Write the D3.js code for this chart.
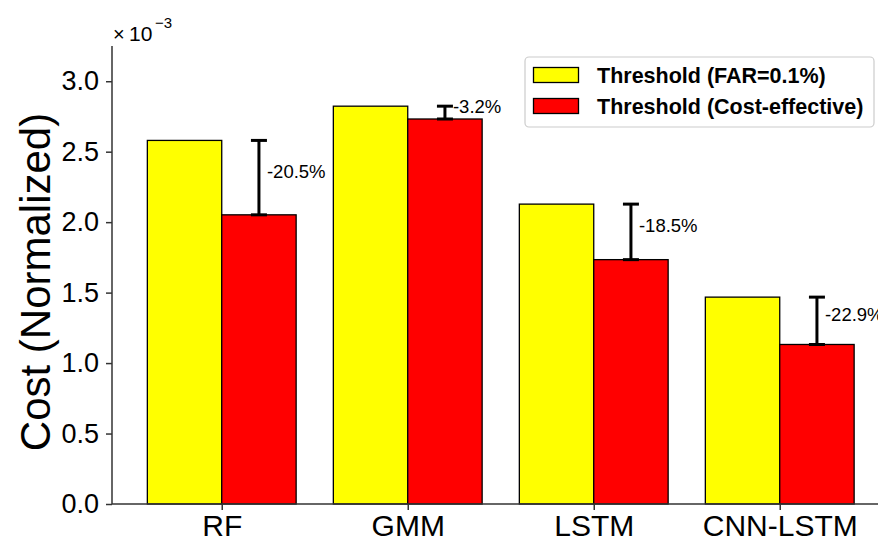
<!DOCTYPE html>
<html><head><meta charset="utf-8">
<script src="https://cdn.jsdelivr.net/npm/d3@7"></script>
<style>
html,body{margin:0;padding:0;background:#fff;overflow:hidden;}
svg{display:block;font-family:"Liberation Sans",Arial,sans-serif;}
</style></head>
<body>
<svg id="chart" width="878" height="541"></svg>
<script>
const categories = ["RF", "GMM", "LSTM", "CNN-LSTM"];
const farValues = [2.58, 2.823, 2.128, 1.468];
const costEffValues = [2.052, 2.732, 1.734, 1.132];
const reductionLabels = ["-20.5%", "-3.2%", "-18.5%", "-22.9%"];
const seriesNames = ["Threshold (FAR=0.1%)", "Threshold (Cost-effective)"];
const yTicks = [0, 0.5, 1.0, 1.5, 2.0, 2.5, 3.0];

(function () {
const svg = d3.select("#chart");
const mLeft = 112, mBottom = 504, mTop = 46;
const barW = 0.4;
const x = d3.scaleLinear().domain([-0.59, 3.59]).range([mLeft, mLeft + 4.18 * 186]);
const y = d3.scaleLinear().domain([0, 3.25]).range([mBottom, mTop]);
const colors = ["#ffff00", "#ff0000"];

// bars
const series = [farValues, costEffValues];
series.forEach((vals, s) => {
  svg.append("g").selectAll("rect").data(vals).join("rect")
    .attr("x", (d, i) => x(i - barW + s * barW))
    .attr("y", d => y(d))
    .attr("width", (d, i) => x(i + barW) - x(i))
    .attr("height", d => y(0) - y(d))
    .attr("fill", colors[s])
    .attr("stroke", "#000")
    .attr("stroke-width", 1.3);
});

// error bars
const eb = svg.append("g");
categories.forEach((c, i) => {
  const cx = x(i + barW / 2);
  const y1 = y(farValues[i]), y2 = y(costEffValues[i]);
  eb.append("line").attr("x1", cx).attr("x2", cx).attr("y1", y1).attr("y2", y2)
    .attr("stroke", "#000").attr("stroke-width", 3);
  [y1, y2].forEach(yy => eb.append("line").attr("x1", cx - 8).attr("x2", cx + 8)
    .attr("y1", yy).attr("y2", yy).attr("stroke", "#000").attr("stroke-width", 3));
  eb.append("text").attr("x", cx + 8).attr("y", y((farValues[i] + costEffValues[i]) / 2))
    .attr("font-size", 18.5).attr("fill", "#000").text(reductionLabels[i]);
});

// y axis
const yAxis = svg.append("g").attr("transform", `translate(${mLeft},0)`)
  .call(d3.axisLeft(y).tickValues(yTicks).tickFormat(d3.format(".1f")).tickSize(6).tickPadding(7));
yAxis.select(".domain").attr("stroke", "#333").attr("stroke-width", 1.5).attr("d", `M0,${mBottom}V${mTop}`);
yAxis.selectAll(".tick line").attr("stroke", "#333").attr("stroke-width", 1.5);
yAxis.selectAll(".tick text").attr("font-size", 27).attr("fill", "#000")
  .attr("font-family", "Liberation Sans, Arial, sans-serif");

// x axis
const xAxis = svg.append("g").attr("transform", `translate(0,${mBottom})`)
  .call(d3.axisBottom(x).tickValues(d3.range(categories.length)).tickFormat(i => categories[i]).tickSize(6).tickPadding(5));
xAxis.select(".domain").attr("stroke", "#333").attr("stroke-width", 1.5).attr("d", `M${mLeft},0H${x(3.59)}`);
xAxis.selectAll(".tick line").attr("stroke", "#333").attr("stroke-width", 1.5);
xAxis.selectAll(".tick text").attr("font-size", 30).attr("fill", "#000")
  .attr("font-family", "Liberation Sans, Arial, sans-serif");

// y label
svg.append("text").attr("transform", "translate(50,282) rotate(-90)")
  .attr("text-anchor", "middle").attr("font-size", 42).attr("fill", "#000")
  .text("Cost (Normalized)");

// multiplier
svg.append("text").attr("x", 113).attr("y", 41).attr("font-size", 20).attr("fill", "#000").text("×");
svg.append("text").attr("x", 129).attr("y", 41).attr("font-size", 21).attr("fill", "#000").text("10");
svg.append("text").attr("x", 155).attr("y", 28).attr("font-size", 15).attr("fill", "#000").text("−3");

// legend
const lg = svg.append("g");
lg.append("rect").attr("x", 525).attr("y", 57).attr("width", 349).attr("height", 70)
  .attr("rx", 4).attr("fill", "#fff").attr("stroke", "#cccccc").attr("stroke-width", 1.2);
seriesNames.forEach((n, s) => {
  const yy = 67.5 + s * 31;
  lg.append("rect").attr("x", 533.5).attr("y", yy).attr("width", 45).attr("height", 15)
    .attr("fill", colors[s]).attr("stroke", "#000").attr("stroke-width", 1.3);
  lg.append("text").attr("x", 597).attr("y", yy + 15).attr("font-size", 21.5)
    .attr("font-weight", "bold").attr("fill", "#000").text(n);
});
})();
</script>
</body></html>
